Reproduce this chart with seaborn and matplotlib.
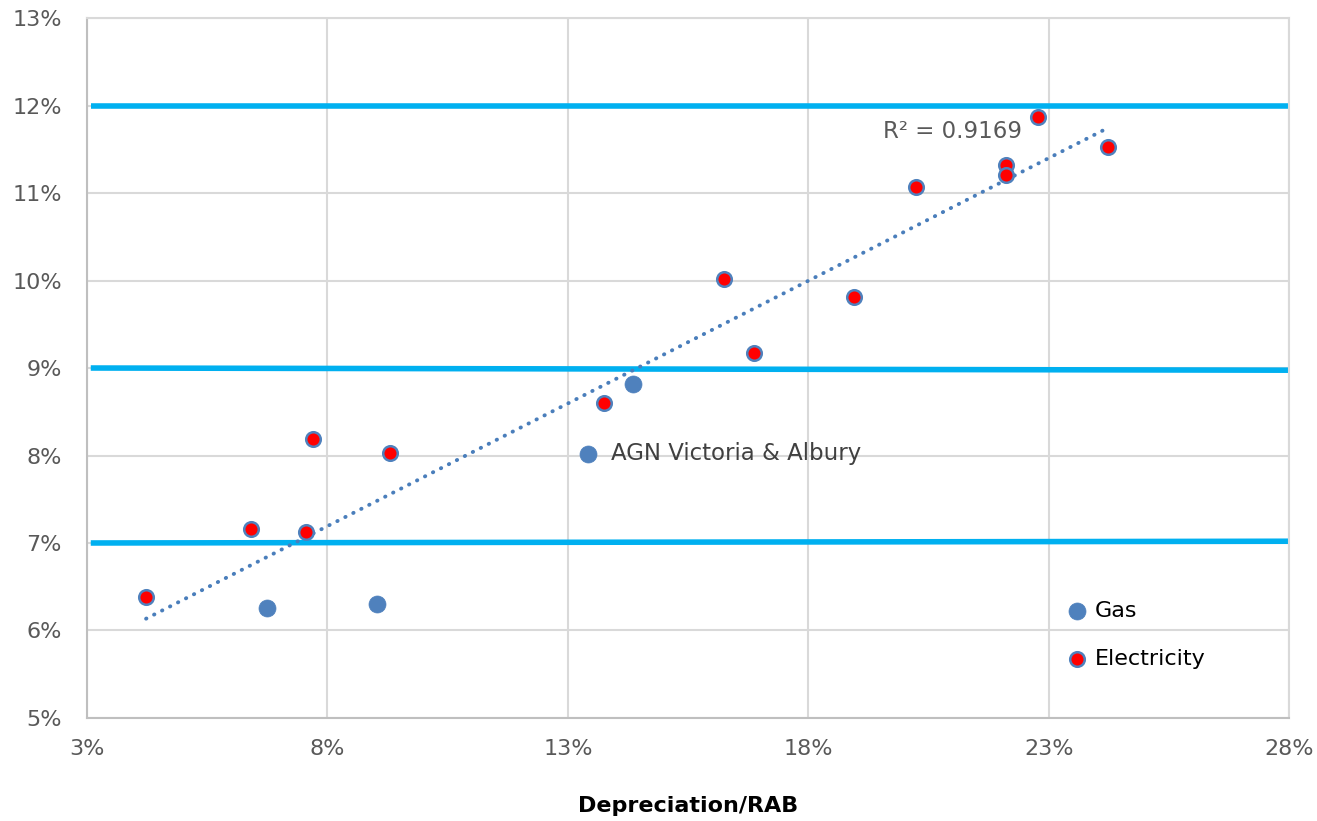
import numpy as np
import seaborn as sns
import matplotlib.pyplot as plt
from matplotlib.ticker import FuncFormatter

# Data (Depreciation/RAB %, rate %)
elec_x = [4.23, 6.41, 7.55, 7.70, 9.30, 13.75, 16.25, 16.87, 18.95, 20.24, 22.11, 22.11, 22.78, 24.24]
elec_y = [6.38, 7.16, 7.13, 8.19, 8.03, 8.60, 10.02, 9.17, 9.81, 11.07, 11.32, 11.21, 11.87, 11.53]
gas_x = [6.74, 9.03, 13.42, 14.36]
gas_y = [6.26, 6.30, 8.02, 8.82]

# hand-drawn reference lines (left y, right y)
ref_lines = [(12.0, 12.0), (9.0, 8.975), (7.0, 7.02)]

sns.set_style("white")
plt.rcParams['font.family'] = ['DejaVu Sans']

fig, ax = plt.subplots(figsize=(13.17, 8.21), dpi=100)
fig.subplots_adjust(left=0.066, right=0.979, top=0.978, bottom=0.1255)

ax.set_xlim(3, 28)
ax.set_ylim(5, 13)
ax.set_xticks([3, 8, 13, 18, 23, 28])
ax.set_yticks(np.arange(5, 14, 1))
ax.grid(True, color='#d9d9d9', linewidth=1.5)
ax.set_axisbelow(True)
for s in ax.spines.values():
    s.set_color('#d9d9d9')
    s.set_linewidth(1.5)
ax.spines['left'].set_color('#bfbfbf')
ax.spines['bottom'].set_color('#bfbfbf')

pct = FuncFormatter(lambda v, p: f"{v:.0f}%")
ax.xaxis.set_major_formatter(pct)
ax.yaxis.set_major_formatter(pct)
ax.tick_params(axis='both', length=0, labelsize=16, colors='#595959')
ax.tick_params(axis='x', pad=15)
ax.tick_params(axis='y', pad=18)

for y0, y1 in ref_lines:
    ax.plot([3.08, 28], [y0, y1], color='#00b0f0', linewidth=4, solid_capstyle='butt', zorder=2)

# linear trendline over all points
all_x = elec_x + gas_x
all_y = elec_y + gas_y
k, b = np.polyfit(all_x, all_y, 1)
tx = np.array([min(all_x), max(all_x)])
ax.plot(tx, k * tx + b, color='#4a7ebb', linewidth=2.8, linestyle=(0, (0.1, 2.2)),
        dash_capstyle='round', zorder=3)

sns.scatterplot(x=gas_x, y=gas_y, ax=ax, color='#4f81bd', s=150, edgecolor='#4f81bd',
                linewidth=0.5, zorder=4, label='Gas')
sns.scatterplot(x=elec_x, y=elec_y, ax=ax, color='#ff0000', s=110, edgecolor='#4f81bd',
                linewidth=1.8, zorder=4, label='Electricity')

ax.text(13.9, 8.02, "AGN Victoria & Albury", fontsize=16.5, color='#404040', va='center')
ax.text(19.55, 11.7, "R² = 0.9169", fontsize=16.5, color='#595959', va='center')

ax.set_xlabel("Depreciation/RAB", fontsize=16, fontweight='bold', labelpad=27, color='black')
ax.set_ylabel("")

leg = ax.legend(loc='upper left', bbox_to_anchor=(0.796, 0.196), frameon=False, fontsize=16,
                handletextpad=0.2, labelspacing=1.25, handlelength=1.2)
for t in leg.get_texts():
    t.set_color('black')

fig.savefig("out.png", dpi=100)
